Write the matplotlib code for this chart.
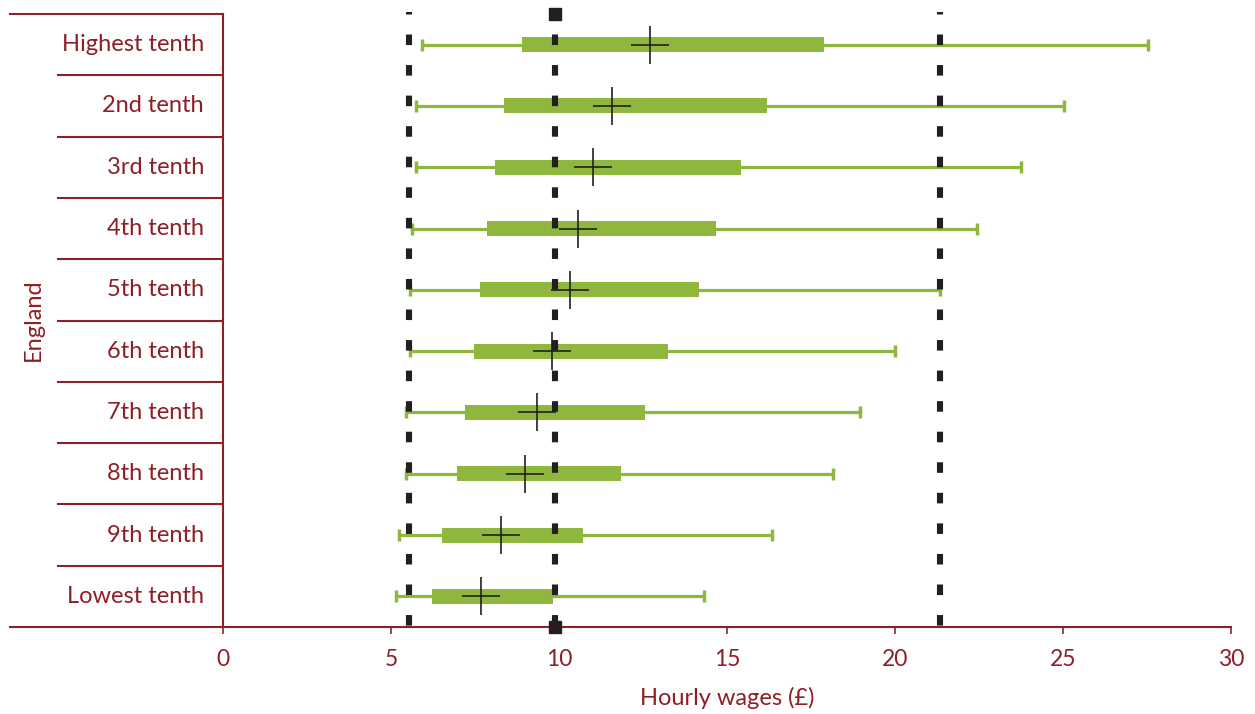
import matplotlib.pyplot as plt
import matplotlib.transforms as mtransforms

plt.rcParams['font.family'] = ['Lato', 'DejaVu Sans']
plt.rcParams['lines.scale_dashes'] = False

# data (hourly wages, GBP)
labels = ["Highest tenth", "2nd tenth", "3rd tenth", "4th tenth", "5th tenth",
          "6th tenth", "7th tenth", "8th tenth", "9th tenth", "Lowest tenth"]
whisker_low = [5.92, 5.73, 5.74, 5.63, 5.58, 5.56, 5.44, 5.45, 5.25, 5.14]
box_low = [8.91, 8.35, 8.10, 7.86, 7.65, 7.46, 7.20, 6.96, 6.51, 6.23]
box_high = [17.89, 16.19, 15.42, 14.67, 14.18, 13.25, 12.55, 11.84, 10.72, 9.81]
whisker_high = [27.53, 25.03, 23.75, 22.45, 21.35, 20.00, 18.96, 18.15, 16.35, 14.31]
median = [12.70, 11.59, 11.01, 10.58, 10.34, 9.80, 9.35, 8.99, 8.27, 7.69]
ref_lines = [5.54, 9.88, 21.34]

green = '#8FB73E'
red = '#8E1F26'
dark = '#231F20'

fig = plt.figure(figsize=(12.55, 7.14), dpi=100)
ax = fig.add_axes([223 / 1255, 1 - 627 / 714, 1008 / 1255, 613 / 714])

rows = list(range(len(labels)))

# whiskers, caps, boxes
ax.hlines(rows, whisker_low, whisker_high, color=green, lw=2.3, zorder=2)
ax.plot(whisker_low, rows, ls='none', marker='|', ms=9, mew=2.5, color=green, zorder=2)
ax.plot(whisker_high, rows, ls='none', marker='|', ms=9, mew=2.5, color=green, zorder=2)
ax.barh(rows, [h - l for l, h in zip(box_low, box_high)], left=box_low,
        height=0.245, color=green, zorder=2)

# dotted reference lines
for v in ref_lines:
    ax.plot([v, v], [-0.528, 9.55], color=dark, lw=4.4,
            linestyle=(5.8, (7.6, 14.4)), dash_capstyle='butt', clip_on=False, zorder=3)
ax.plot([ref_lines[1], ref_lines[1]], [-0.5, 9.5], ls='none', marker='s', ms=8.5,
        color=dark, clip_on=False, zorder=4)

# medians
ax.plot(median, rows, ls='none', marker='+', ms=28, mew=1.2, color=dark, zorder=5)

ax.set_xlim(0, 30)
ax.set_ylim(9.5, -0.5)
ax.set_xticks(range(0, 31, 5))
ax.set_yticks([])
ax.tick_params(axis='x', direction='out', length=5, width=1.2, color=red,
               labelcolor=red, labelsize=16.5, pad=11)
for s in ['top', 'right']:
    ax.spines[s].set_visible(False)
for s in ['left', 'bottom']:
    ax.spines[s].set_color(red)
    ax.spines[s].set_linewidth(1.5)

# category labels and separators left of the axis
trans = mtransforms.blended_transform_factory(ax.transAxes, ax.transData)
left_long = (10 - 223) / 1008
left_short = (58 - 223) / 1008
for i, lab in enumerate(labels):
    ax.text((204 - 223) / 1008, i, lab, transform=trans, ha='right', va='center',
            color=red, fontsize=17)
for k in range(len(labels) + 1):
    y = k - 0.5
    x0 = left_long if k in (0, len(labels)) else left_short
    ax.plot([x0, 0], [y, y], transform=trans, color=red, lw=1.5, clip_on=False)

fig.text(33 / 1255, 1 - 320 / 714, 'England', rotation=90, ha='center', va='center',
         color=red, fontsize=17)
fig.text(727 / 1255, 1 - 698 / 714, 'Hourly wages (£)', ha='center', va='center',
         color=red, fontsize=17)

fig.savefig('out.png', dpi=100)
